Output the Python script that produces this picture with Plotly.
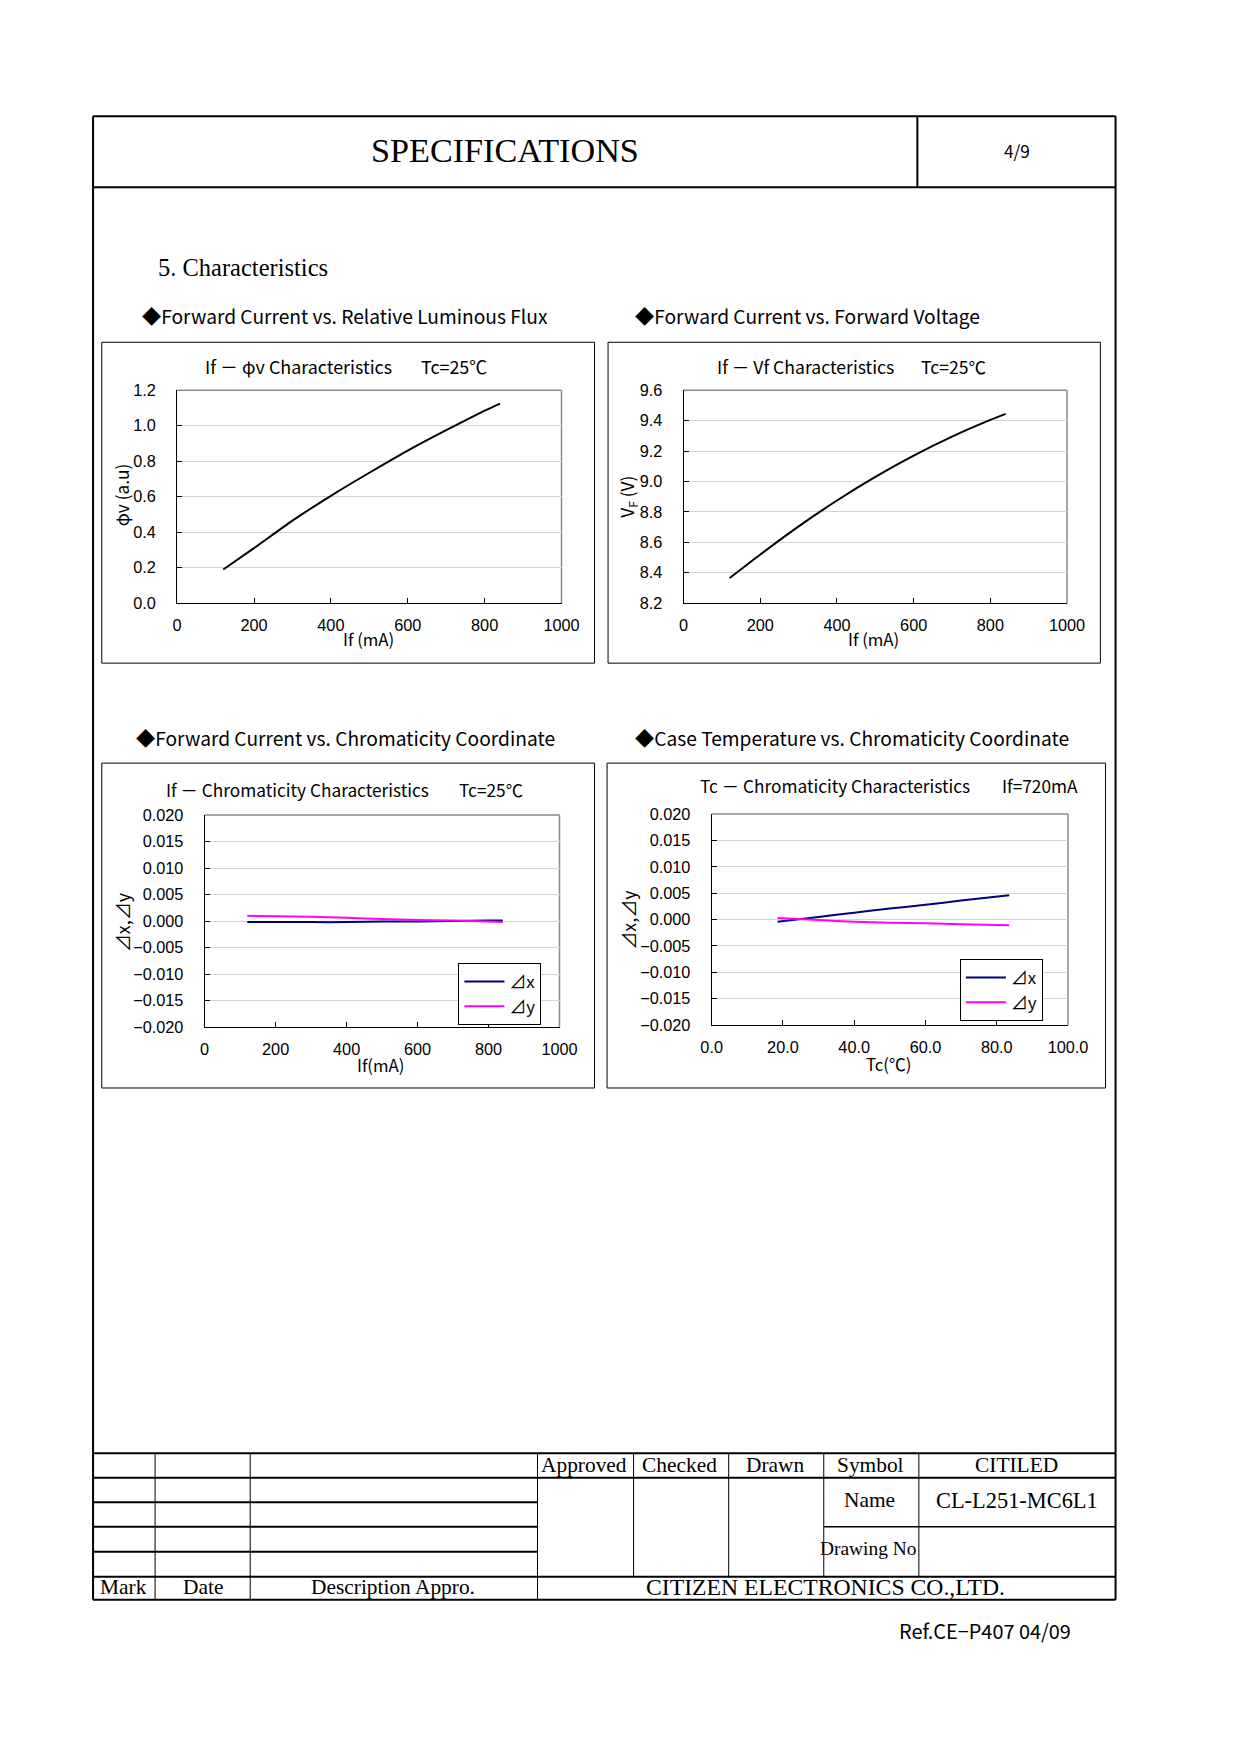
import plotly.graph_objects as go

# Figure sized to fit the window with the browser's 8px body margin.
PAGE_W, PAGE_H = 1240, 1754
OFF = 8
W, H = PAGE_W - 2 * OFF, PAGE_H - 2 * OFF
# empirical correction of the photographed page (measured from a previous render)
SX, OX = 0.9737, 10.24
SY, OY = 0.990, 6.7
FS = 1.02  # font scale compensation

# ---------------- data ----------------
if_lum = [120, 200, 300, 400, 500, 600, 700, 800, 840]
phi_v = [0.19, 0.31, 0.465, 0.605, 0.735, 0.86, 0.975, 1.085, 1.125]

if_vf = [120, 200, 300, 400, 500, 600, 700, 800, 840]
vf = [8.365, 8.52, 8.705, 8.875, 9.03, 9.17, 9.295, 9.405, 9.445]

if_chroma = [120, 200, 300, 400, 500, 600, 700, 800, 840]
dx_if = [-0.0002, -0.0002, -0.0002, -0.0002, -0.0001, -0.0001, 0.0, 0.0001, 0.0001]
dy_if = [0.0010, 0.0009, 0.0008, 0.0006, 0.0004, 0.0002, 0.0001, -0.0001, -0.0002]

tc = [18.5, 30, 40, 50, 60, 70, 83.5]
dx_tc = [-0.0004, 0.0005, 0.0013, 0.0021, 0.0028, 0.0036, 0.0046]
dy_tc = [0.0003, -0.0001, -0.0004, -0.0006, -0.0007, -0.0009, -0.0011]

if_ticks = [0, 200, 400, 600, 800, 1000]
tc_ticks = [0, 20, 40, 60, 80, 100]
lum_ticks = [0, 0.2, 0.4, 0.6, 0.8, 1.0, 1.2]
vf_ticks = [8.2, 8.4, 8.6, 8.8, 9.0, 9.2, 9.4, 9.6]
chroma_ticks = [-0.02, -0.015, -0.01, -0.005, 0, 0.005, 0.01, 0.015, 0.02]

# ---------------- helpers (target pixels -> paper) ----------------
def px(x):
    p = (x - OX) / SX
    return (p - OFF) / W

def py(y):
    p = (y - OY) / SY
    return 1 - (p - OFF) / H

def f(s):
    return round(s * FS, 1)

SANS = "Noto Sans CJK JP"
NUM = "Liberation Sans, Arial"
SERIF = "Liberation Serif, Times New Roman"

fig = go.Figure()

NAVY = "#000080"
MAG = "#FF00FF"

def lw(color):
    return dict(color=color, width=2, shape="spline", smoothing=0.6)

fig.add_trace(go.Scatter(x=if_lum, y=phi_v, mode="lines", line=lw("black"),
                         xaxis="x", yaxis="y", showlegend=False))
fig.add_trace(go.Scatter(x=if_vf, y=vf, mode="lines", line=lw("black"),
                         xaxis="x2", yaxis="y2", showlegend=False))
fig.add_trace(go.Scatter(x=if_chroma, y=dx_if, mode="lines", name="⊿x", line=lw(NAVY),
                         xaxis="x3", yaxis="y3", legend="legend"))
fig.add_trace(go.Scatter(x=if_chroma, y=dy_if, mode="lines", name="⊿y", line=lw(MAG),
                         xaxis="x3", yaxis="y3", legend="legend"))
fig.add_trace(go.Scatter(x=tc, y=dx_tc, mode="lines", name="⊿x", line=lw(NAVY),
                         xaxis="x4", yaxis="y4", legend="legend2"))
fig.add_trace(go.Scatter(x=tc, y=dy_tc, mode="lines", name="⊿y", line=lw(MAG),
                         xaxis="x4", yaxis="y4", legend="legend2"))

# plot areas in target pixels: (left, right, top, bottom)
areas = {
    1: (176, 560, 388, 601),
    2: (682, 1065, 388, 601),
    3: (203.5, 558, 813, 1025),
    4: (710, 1066, 812, 1023),
}

def xaxis_cfg(n, rng, tickvals, fmt=None, anchor=None):
    l, r, t, b = areas[n]
    d = dict(domain=[px(l), px(r)], range=rng, tickvals=tickvals, showline=True, linecolor="black",
             linewidth=1, ticks="inside", ticklen=5, tickcolor="black", showgrid=False, zeroline=False,
             tickfont=dict(family=NUM, size=f(16), color="black"), ticklabelstandoff=7,
             anchor=anchor, fixedrange=True)
    if fmt:
        d["tickformat"] = fmt
    return d

def yaxis_cfg(n, rng, tickvals, fmt=None, anchor=None):
    l, r, t, b = areas[n]
    d = dict(domain=[py(b), py(t)], range=rng, tickvals=tickvals, showline=True, linecolor="black",
             linewidth=1, ticks="inside", ticklen=5, tickcolor="black", showgrid=True,
             gridcolor="#d4d4d4", gridwidth=1, zeroline=False,
             tickfont=dict(family=NUM, size=f(16), color="black"), ticklabelstandoff=17,
             anchor=anchor, fixedrange=True)
    if fmt:
        d["tickformat"] = fmt
    return d

leg_common = dict(xanchor="left", yanchor="top", bordercolor="black", borderwidth=1, bgcolor="white",
                  font=dict(family=SANS, size=f(16.5), color="black"), itemwidth=40, tracegroupgap=0)

layout = dict(
    width=W, height=H, margin=dict(l=0, r=0, t=0, b=0),
    paper_bgcolor="white", plot_bgcolor="white",
    xaxis=xaxis_cfg(1, [0, 1000], if_ticks, anchor="y"),
    yaxis=yaxis_cfg(1, [0, 1.2], lum_ticks, ".1f", anchor="x"),
    xaxis2=xaxis_cfg(2, [0, 1000], if_ticks, anchor="y2"),
    yaxis2=yaxis_cfg(2, [8.2, 9.6], vf_ticks, ".1f", anchor="x2"),
    xaxis3=xaxis_cfg(3, [0, 1000], if_ticks, anchor="y3"),
    yaxis3=yaxis_cfg(3, [-0.02, 0.02], chroma_ticks, ".3f", anchor="x3"),
    xaxis4=xaxis_cfg(4, [0, 100], tc_ticks, ".1f", anchor="y4"),
    yaxis4=yaxis_cfg(4, [-0.02, 0.02], chroma_ticks, ".3f", anchor="x4"),
    legend=dict(x=px(457), y=py(961), **leg_common),
    legend2=dict(x=px(958), y=py(957), **leg_common),
    showlegend=True,
)
fig.update_layout(**layout)

shapes = []

def line(x0, y0, x1, y1, w=1, color="black"):
    shapes.append(dict(type="line", xref="paper", yref="paper", x0=px(x0), y0=py(y0),
                       x1=px(x1), y1=py(y1), line=dict(color=color, width=w)))

# page frame
L, R, T, B = 92, 1113.5, 114, 1598
line(L, T, R, T, 2)
line(L, B, R, B, 2)
line(L, T, L, B, 2)
line(R, T, R, B, 2)
line(L, 185, R, 185, 2)
line(915.5, T, 915.5, 185, 2)

# bottom table
line(L, 1451.5, R, 1451.5, 2)
line(L, 1476, R, 1476, 2)
line(L, 1500.5, 536, 1500.5, 2)
line(L, 1525, 536, 1525, 2)
line(822, 1525, R, 1525, 1.5)
line(L, 1550, 536, 1550, 2)
line(L, 1575, R, 1575, 2)
for xv in (154, 249, 536):
    line(xv, 1451.5, xv, B, 1)
for xv in (632, 727, 822, 917):
    line(xv, 1451.5, xv, 1575, 1)

# chart frames
for (x0, y0, x1, y1) in [(100.7, 340, 593, 661), (606.5, 340, 1098.3, 661),
                         (100.7, 761, 593, 1086), (605.5, 761, 1103.5, 1086)]:
    shapes.append(dict(type="rect", xref="paper", yref="paper", x0=px(x0), y0=py(y0),
                       x1=px(x1), y1=py(y1), line=dict(color="black", width=1)))

# plot area top/right edges in grey
for n in (1, 2, 3, 4):
    xs = "x" if n == 1 else f"x{n}"
    ys = "y" if n == 1 else f"y{n}"
    shapes.append(dict(type="line", xref=f"{xs} domain", yref=f"{ys} domain", x0=0, y0=1, x1=1, y1=1,
                       line=dict(color="#8a8a8a", width=1.5), layer="below"))
    shapes.append(dict(type="line", xref=f"{xs} domain", yref=f"{ys} domain", x0=1, y0=0, x1=1, y1=1,
                       line=dict(color="#8a8a8a", width=1.5), layer="below"))

fig.update_layout(shapes=shapes)

ann = []

def text(x, y, s, size=16, family=SANS, xanchor="left", angle=0, color="black"):
    ann.append(dict(xref="paper", yref="paper", x=px(x), y=py(y), text=s, showarrow=False,
                    xanchor=xanchor, yanchor="middle", textangle=angle,
                    font=dict(family=family, size=f(size), color=color)))

# header
text(504, 148, "SPECIFICATIONS", 33.5, SERIF, "center")
text(1015, 148.5, "4/9", 17, SANS, "center")
text(155, 265, "5. Characteristics", 24, SERIF, "left")

# section headings
text(138.5, 314, "◆Forward Current vs. Relative Luminous Flux", 18.8)
text(631.5, 314, "◆Forward Current vs. Forward Voltage", 18.8)
text(133, 736, "◆Forward Current vs. Chromaticity Coordinate", 18.8)
text(631.5, 736, "◆Case Temperature vs. Chromaticity Coordinate", 18.8)

# chart titles
text(202, 364, "If － φv Characteristics", 17.5)
text(418, 364, "Tc=25℃", 17.5)
text(713, 364, "If － Vf Characteristics", 17.3)
text(917, 364, "Tc=25℃", 17.3)
text(163, 787, "If － Chromaticity Characteristics", 17)
text(456, 787, "Tc=25℃", 17)
text(696, 783, "Tc － Chromaticity Characteristics", 17)
text(998, 783, "If=720mA", 17)

# axis titles
text(120, 493, "φv (a.u)", 17, SANS, "center", -90)
text(626, 495, "V<sub>F</sub> (V)", 17, SANS, "center", -90)
text(121, 920, "⊿x,⊿y", 17.5, SANS, "center", -90)
text(626, 918, "⊿x,⊿y", 17.5, SANS, "center", -90)
text(367, 637, "If (mA)", 16.5, SANS, "center")
text(872, 637, "If (mA)", 16.5, SANS, "center")
text(379, 1063, "If(mA)", 16.5, SANS, "center")
text(887, 1062, "Tc(℃)", 16.5, SANS, "center")

# table text
text(582, 1463.5, "Approved", 21, SERIF, "center")
text(678, 1463.5, "Checked", 21, SERIF, "center")
text(773.5, 1463.5, "Drawn", 21, SERIF, "center")
text(868.5, 1463.5, "Symbol", 21, SERIF, "center")
text(1014.5, 1463.5, "CITILED", 21, SERIF, "center")
text(868, 1498, "Name", 21, SERIF, "center")
text(1015, 1499, "CL-L251-MC6L1", 22, SERIF, "center")
text(816, 1547, "Drawing No", 19, SERIF, "left")
text(122, 1585.5, "Mark", 21, SERIF, "center")
text(202, 1585.5, "Date", 21, SERIF, "center")
text(392, 1585.5, "Description Appro.", 21, SERIF, "center")
text(824, 1585.5, "CITIZEN ELECTRONICS CO.,LTD.", 23.2, SERIF, "center")

text(1071, 1629, "Ref.CE−P407 04/09", 19.5, SANS, "right")

fig.update_layout(annotations=ann)

fig.write_html("out.html", config={"displayModeBar": False})
